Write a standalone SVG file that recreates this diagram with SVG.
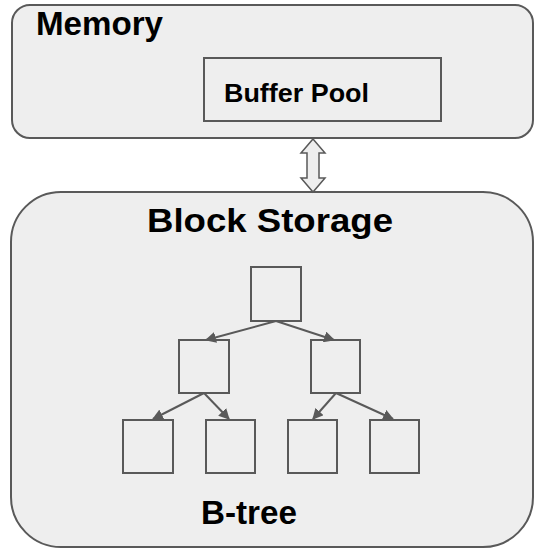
<svg xmlns="http://www.w3.org/2000/svg" width="535" height="555" viewBox="0 0 535 555">
  <style>
    .panel { fill: #eeeeee; stroke: #595959; stroke-width: 2; }
    .box { fill: #eeeeee; stroke: #595959; stroke-width: 2; }
    .lbl { font-family: "Liberation Sans", Arial, sans-serif; font-weight: bold; fill: #000000; }
    .edge { stroke: #595959; stroke-width: 2; fill: none; marker-end: url(#tip); }
  </style>
  <defs>
    <marker id="tip" viewBox="0 0 10 10" refX="9" refY="5" markerWidth="5.5" markerHeight="5.5" orient="auto" markerUnits="strokeWidth">
      <path d="M0,0 L10,5 L0,10 z" fill="#595959"/>
    </marker>
  </defs>
  <rect width="535" height="555" fill="#ffffff"/>

  <g id="memory">
    <rect class="panel" x="12" y="5" width="521" height="133" rx="18" ry="18"/>
    <text class="lbl" x="36" y="35" font-size="33" textLength="127" lengthAdjust="spacingAndGlyphs">Memory</text>
  </g>

  <g id="buffer-pool">
    <rect class="box" x="204" y="58" width="237" height="63"/>
    <text class="lbl" x="224" y="102" font-size="26" textLength="145" lengthAdjust="spacingAndGlyphs">Buffer Pool</text>
  </g>

  <g id="block-storage">
    <rect class="panel" x="11" y="192" width="522" height="355" rx="50" ry="50"/>
    <text class="lbl" x="147" y="232" font-size="34" textLength="246" lengthAdjust="spacingAndGlyphs">Block Storage</text>
    <text class="lbl" x="201" y="524" font-size="33" textLength="96" lengthAdjust="spacingAndGlyphs">B-tree</text>
  </g>

  <g id="root"><rect class="box" x="251" y="267" width="50" height="54"/></g>
  <g id="inner-left"><rect class="box" x="179" y="340" width="50" height="53"/></g>
  <g id="inner-right"><rect class="box" x="311" y="340" width="49" height="53"/></g>
  <g id="leaf-1"><rect class="box" x="123" y="420" width="50" height="53"/></g>
  <g id="leaf-2"><rect class="box" x="206" y="420" width="49" height="53"/></g>
  <g id="leaf-3"><rect class="box" x="288" y="420" width="49" height="53"/></g>
  <g id="leaf-4"><rect class="box" x="370" y="420" width="49" height="53"/></g>

  <g id="connectors">
    <!-- two-way transfer between memory and storage -->
    <path d="M313,139 L325,153 L319,153 L319,178 L325,178 L313,192 L301,178 L307,178 L307,153 L301,153 Z" fill="#eeeeee" stroke="#595959" stroke-width="1.5"/>
    <!-- tree edges -->
    <line class="edge" x1="276" y1="321" x2="206" y2="340"/>
    <line class="edge" x1="276" y1="321" x2="334" y2="340"/>
    <line class="edge" x1="204" y1="393" x2="153" y2="419"/>
    <line class="edge" x1="204" y1="393" x2="229" y2="419"/>
    <line class="edge" x1="336" y1="393" x2="313" y2="419"/>
    <line class="edge" x1="336" y1="393" x2="393" y2="419"/>
  </g>
</svg>
